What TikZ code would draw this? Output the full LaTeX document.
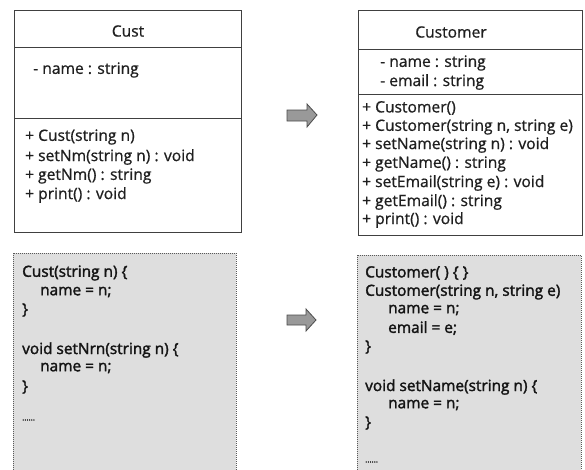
\documentclass[tikz,border=0pt]{standalone}
\usepackage{fontspec}
\setmainfont{Open Sans}
\newfontfamily\umlfont[FakeBold=0.8]{Open Sans}
\newfontfamily\codefont[FakeBold=2]{Open Sans}
\tikzset{
  umlbox/.style={draw=black!75, line width=0.9pt},
  codebox/.style={draw=black!65, densely dotted, line width=1pt, fill=black!13},
  umltxt/.style={anchor=west, inner sep=0pt, font=\umlfont\fontsize{15.6}{17}\selectfont, text=black!88},
  codetxt/.style={anchor=west, inner sep=0pt, font=\codefont\fontsize{15.4}{17}\selectfont, text=black!92},
  blockarrow/.style={draw=black!70, fill=black!40, line width=0.8pt, line join=miter}
}
\begin{document}
\begin{tikzpicture}[x=1pt,y=-1pt]
\clip (0,0) rectangle (585,469);
\fill[white] (0,0) rectangle (585,469);
% left UML class
\draw[umlbox] (14,10) rectangle (241,232);
\draw[umlbox] (14,47) -- (241,47);
\draw[umlbox] (14,118) -- (241,118);
\node[umltxt, anchor=center] (c1t) at (128,31) {Cust};
\node[umltxt] (c1a) at (33,70) {- name : string};
\node[umltxt] (c1m1) at (25,137) {+ Cust(string n)};
\node[umltxt] (c1m2) at (25,157) {+ setNm(string n) : void};
\node[umltxt] (c1m3) at (25,176) {+ getNm() : string};
\node[umltxt] (c1m4) at (25,195) {+ print() : void};
% right UML class
\draw[umlbox] (358,10) rectangle (582,235);
\draw[umlbox] (358,49) -- (582,49);
\draw[umlbox] (358,94) -- (582,94);
\node[umltxt, anchor=center] (c2t) at (451,32) {Customer};
\node[umltxt] (c2a1) at (380,63) {- name : string};
\node[umltxt] (c2a2) at (380,82) {- email : string};
\node[umltxt] (c2m1) at (362,108) {+ Customer()};
\node[umltxt] (c2m2) at (362,127) {+ Customer(string n, string e)};
\node[umltxt] (c2m3) at (362,145) {+ setName(string n) : void};
\node[umltxt] (c2m4) at (362,164) {+ getName() : string};
\node[umltxt] (c2m5) at (362,183) {+ setEmail(string e) : void};
\node[umltxt] (c2m6) at (362,202) {+ getEmail() : string};
\node[umltxt] (c2m7) at (362,220) {+ print() : void};
% arrows
\draw[blockarrow] (287,110) -- (307,110) -- (307,104) -- (317,115) -- (307,127) -- (307,121) -- (287,121) -- cycle;
\draw[blockarrow] (287,315) -- (306,315) -- (306,309) -- (316,320) -- (306,331) -- (306,325) -- (287,325) -- cycle;
% left code box
\draw[codebox] (13,253) rectangle (236,480);
\node[codetxt] (k1) at (22,273) {Cust(string n) \{};
\node[codetxt] (k2) at (40,292) {name = n;};
\node[codetxt] (k3) at (22,310) {\}};
\node[codetxt] (k4) at (22,350) {void setNrn(string n) \{};
\node[codetxt] (k5) at (40,368) {name = n;};
\node[codetxt] (k6) at (22,387) {\}};
\node[codetxt, font=\codefont\fontsize{8}{9}\selectfont] (k7) at (22,420) {......};
% right code box
\draw[codebox] (357,255) rectangle (581,480);
\node[codetxt] (r1) at (365,273) {Customer( ) \{ \}};
\node[codetxt] (r2) at (365,292) {Customer(string n, string e)};
\node[codetxt] (r3) at (388,310) {name = n;};
\node[codetxt] (r4) at (388,328) {email = e;};
\node[codetxt] (r5) at (365,347) {\}};
\node[codetxt] (r6) at (365,387) {void setName(string n) \{};
\node[codetxt] (r7) at (388,405) {name = n;};
\node[codetxt] (r8) at (365,423) {\}};
\node[codetxt, font=\codefont\fontsize{8}{9}\selectfont] (r9) at (365,462) {......};
\end{tikzpicture}
\end{document}
